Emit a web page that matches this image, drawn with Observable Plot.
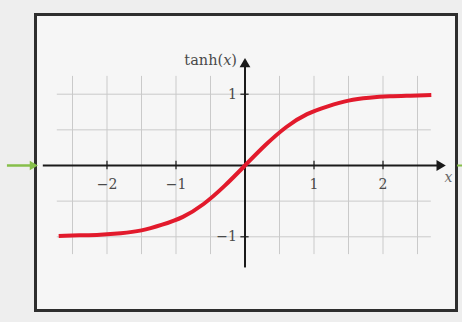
<!DOCTYPE html>
<html>
<head>
<meta charset="utf-8">
<script src="https://cdn.jsdelivr.net/npm/d3@7"></script>
<script src="https://cdn.jsdelivr.net/npm/@observablehq/plot@0.6"></script>
<style>
  html, body { margin: 0; padding: 0; background: #eeeeee; }
  svg { display: block; }
</style>
</head>
<body>
<div id="chart"></div>
<script>
// Data
const curveX = [-2.7, -2.4, -2.1, -1.8, -1.5, -1.2, -0.9, -0.6, -0.3, 0, 0.3, 0.6, 0.9, 1.2, 1.5, 1.8, 2.1, 2.4, 2.7];
const curveY = [-0.99, -0.98, -0.97, -0.95, -0.91, -0.83, -0.72, -0.54, -0.29, 0, 0.29, 0.54, 0.72, 0.83, 0.91, 0.95, 0.97, 0.98, 0.99];
const gridX = [-2.5, -2, -1.5, -1, -0.5, 0.5, 1, 1.5, 2, 2.5];
const gridY = [-1, -0.5, 0.5, 1];
const xTicks = [-2, -1, 1, 2];
const xTickLabels = ["−2", "−1", "1", "2"];
const yTicks = [-1, 1];
const yTickLabels = ["−1", "1"];
const yLabel = "tanh(x)";
const xLabel = "x";

const curve = curveX.map((x, i) => ({x, y: curveY[i]}));
const serif = "'DejaVu Serif', 'Liberation Serif', serif";

const plot = Plot.plot({
  width: 462,
  height: 322,
  marginLeft: 35,
  marginRight: 6,
  marginTop: 14,
  marginBottom: 12,
  x: {domain: [-3.036, 3.065], axis: null},
  y: {domain: [-2.034, 2.118], axis: null},
  style: {background: "#eeeeee", overflow: "visible"},
  marks: [
    Plot.frame({fill: "#f6f6f6", stroke: "#2e2e2e", strokeWidth: 3}),
    Plot.ruleX(gridX, {y1: -1.25, y2: 1.25, stroke: "#cacaca", strokeWidth: 1}),
    Plot.ruleY(gridY, {x1: -2.72, x2: 2.7, stroke: "#cacaca", strokeWidth: 1}),
    // axes
    Plot.link([0], {x1: -2.93, x2: 2.8, y1: 0, y2: 0, stroke: "#1a1a1a", strokeWidth: 2}),
    Plot.link([0], {x1: 0, x2: 0, y1: -1.43, y2: 1.4, stroke: "#1a1a1a", strokeWidth: 2}),
    Plot.dot([0], {x: 2.82, y: 0, symbol: "triangle", r: 4, rotate: 90, fill: "#1a1a1a", stroke: "none"}),
    Plot.dot([0], {x: 0, y: 1.42, symbol: "triangle", r: 4, fill: "#1a1a1a", stroke: "none"}),
    Plot.ruleX(xTicks, {y1: -0.06, y2: 0.06, stroke: "#1a1a1a", strokeWidth: 1.2}),
    Plot.ruleY(yTicks, {x1: -0.06, x2: 0.06, stroke: "#1a1a1a", strokeWidth: 1.2}),
    Plot.text(xTicks, {x: d => d, y: 0, text: (d, i) => xTickLabels[i], dy: 19, fontSize: 14, fontFamily: serif, fill: "#4a4a4a"}),
    Plot.text(yTicks, {x: 0, y: d => d, text: (d, i) => yTickLabels[i], dx: -8, textAnchor: "end", fontSize: 14, fontFamily: serif, fill: "#4a4a4a"}),
    Plot.text([yLabel], {x: 0, y: 1.47, text: d => d, dx: -8, textAnchor: "end", fontSize: 14.5, fontFamily: serif, fill: "#4a4a4a", className: "ylab"}),
    Plot.text([xLabel], {x: 2.95, y: 0, text: d => d, dy: 12, fontSize: 14, fontFamily: serif, fontStyle: "italic", fill: "#666"}),
    Plot.line(curve, {x: "x", y: "y", curve: "natural", stroke: "#e21a2c", strokeWidth: 4, strokeLinecap: "butt"}),
    // green markers at the frame edges
    Plot.link([0], {x1: -3.45, x2: -3.1, y1: 0, y2: 0, stroke: "#86bf4a", strokeWidth: 2.5}),
    Plot.dot([0], {x: -3.08, y: 0, symbol: "triangle", r: 3.5, rotate: 90, fill: "#86bf4a", stroke: "none"}),
    Plot.ruleY([0], {x1: 3.08, x2: 3.16, stroke: "#86bf4a", strokeWidth: 2})
  ]
});

document.getElementById("chart").appendChild(plot);
// italic x inside the y label
d3.select(plot).selectAll(".ylab text").each(function() {
  const t = d3.select(this);
  t.text(null);
  t.append("tspan").text("tanh(");
  t.append("tspan").attr("font-style", "italic").text("x");
  t.append("tspan").text(")");
});
</script>
</body>
</html>
